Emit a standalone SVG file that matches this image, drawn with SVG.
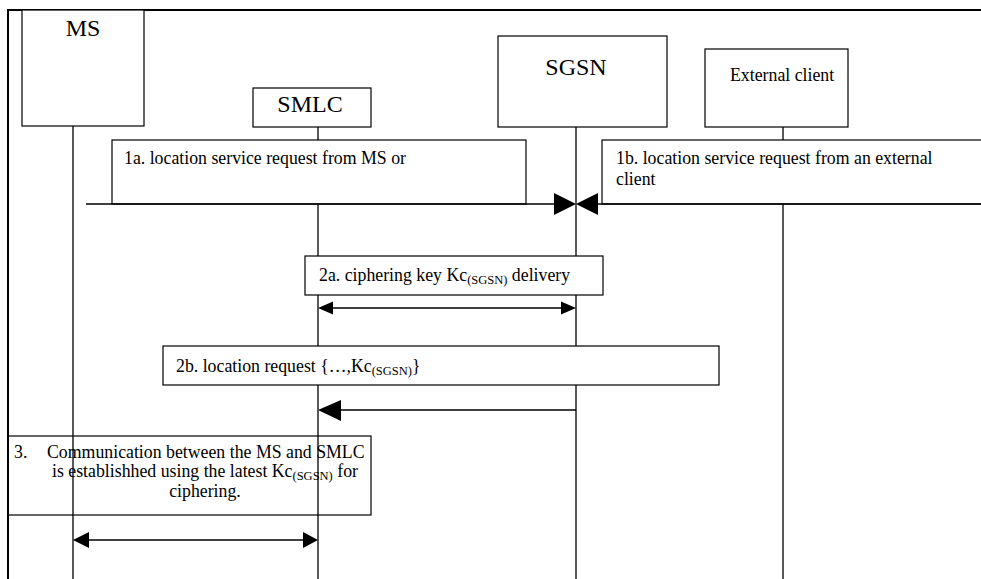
<svg xmlns="http://www.w3.org/2000/svg" width="981" height="579" viewBox="0 0 981 579">
<style>
  .frame { fill: none; stroke: #000; stroke-width: 2; }
  .box { fill: #fff; stroke: #000; stroke-width: 1.2; }
  .life { stroke: #000; stroke-width: 1.3; fill: none; }
  .msg { stroke: #000; stroke-width: 1.3; fill: none; }
  .head { fill: #000; stroke: none; }
  text { fill: #000; }
  .title { font-size: 24px; text-anchor: middle; }
  .lbl { font-size: 17.8px; }
  .sub { font-size: 12.5px; }
</style>
<rect width="981" height="579" fill="#fff"/>
<g id="frame">
  <polyline class="frame" points="8,579 8,10 981,10"/>
</g>
<g id="lifelines">
  <line class="life" x1="73" y1="126" x2="73" y2="579"/>
  <line class="life" x1="318" y1="127" x2="318" y2="579"/>
  <line class="life" x1="576" y1="127" x2="576" y2="579"/>
  <line class="life" x1="783" y1="127" x2="783" y2="579"/>
</g>
<g font-family="Liberation Serif, Tinos, DejaVu Serif, serif">
<g id="node-ms">
  <rect class="box" x="22" y="10" width="122" height="116"/>
  <text class="title" x="83" y="36">MS</text>
</g>
<g id="node-smlc">
  <rect class="box" x="253" y="88" width="118" height="39"/>
  <text class="title" x="310" y="112">SMLC</text>
</g>
<g id="node-sgsn">
  <rect class="box" x="498" y="36" width="169" height="91"/>
  <text class="title" x="576" y="75">SGSN</text>
</g>
<g id="node-external">
  <rect class="box" x="705" y="49" width="143" height="78"/>
  <text class="lbl" x="730" y="81">External client</text>
</g>
<g id="note-1a">
  <rect class="box" x="112" y="140" width="414" height="64"/>
  <text class="lbl" x="124" y="164">1a. location service request from MS or</text>
</g>
<g id="note-1b">
  <rect class="box" x="602" y="140" width="390" height="64"/>
  <text class="lbl" x="616" y="164">1b. location service request from an external</text>
  <text class="lbl" x="616" y="185">client</text>
</g>
<g id="note-2a">
  <rect class="box" x="305" y="256" width="298" height="39"/>
  <text class="lbl" x="319" y="281">2a. ciphering key Kc<tspan class="sub" dy="3">(SGSN)</tspan><tspan dy="-3"> delivery</tspan></text>
</g>
<g id="note-2b">
  <rect class="box" x="163" y="346" width="556" height="39"/>
  <text class="lbl" x="176" y="372">2b. location request {…,Kc<tspan class="sub" dy="3">(SGSN)</tspan><tspan dy="-3">}</tspan></text>
</g>
<g id="note-3">
  <rect x="8" y="436" width="363" height="79" fill="none" stroke="#000" stroke-width="1.2"/>
  <text class="lbl" x="14" y="458">3.</text>
  <text class="lbl" x="47" y="458">Communication between the MS and SMLC</text>
  <text class="lbl" x="205" y="477" text-anchor="middle">is establishhed using the latest Kc<tspan class="sub" dy="3">(SGSN)</tspan><tspan dy="-3"> for</tspan></text>
  <text class="lbl" x="205" y="497" text-anchor="middle">ciphering.</text>
</g>
</g>
<g id="connectors">
  <line class="msg" x1="86" y1="204" x2="556" y2="204"/>
  <polygon class="head" points="554,193 576,204 554,215"/>
  <line class="msg" x1="596" y1="204" x2="981" y2="204"/>
  <polygon class="head" points="598,193 576,204 598,215"/>
  <line class="msg" x1="330" y1="308" x2="564" y2="308"/>
  <polygon class="head" points="333,301.5 318,308 333,314.5"/>
  <polygon class="head" points="561,301.5 576,308 561,314.5"/>
  <line class="msg" x1="338" y1="410" x2="576" y2="410"/>
  <polygon class="head" points="341,400 318,410 341,421"/>
  <line class="msg" x1="85" y1="540" x2="306" y2="540"/>
  <polygon class="head" points="89,532 73,540 89,548"/>
  <polygon class="head" points="303,532 318,540 303,548"/>
</g>
</svg>
